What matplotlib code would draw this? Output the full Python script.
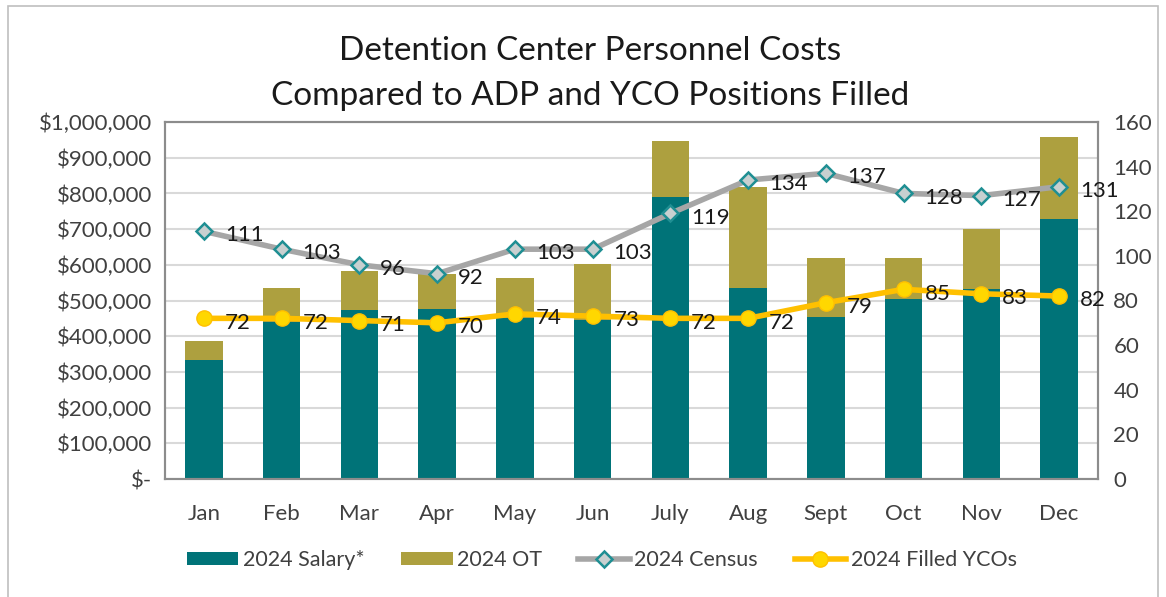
import matplotlib
matplotlib.use("Agg")
import matplotlib.pyplot as plt
from matplotlib.ticker import FuncFormatter, MultipleLocator
import numpy as np

months = ["Jan", "Feb", "Mar", "Apr", "May", "Jun", "July", "Aug", "Sept", "Oct", "Nov", "Dec"]
salary = [333000, 440000, 473000, 476000, 451000, 445000, 790000, 535000, 454000, 504000, 532000, 728000]
ot = [54000, 95000, 110000, 98000, 112000, 157000, 157000, 283000, 165000, 115000, 168000, 230000]
census = [111, 103, 96, 92, 103, 103, 119, 134, 137, 128, 127, 131]
filled_ycos = [72, 72, 71, 70, 74, 73, 72, 72, 79, 85, 83, 82]

TEAL = "#007378"
OLIVE = "#ADA03F"
GRAY = "#A6A6A6"
GOLD = "#FFC000"
TXT = "#404040"

plt.rcParams["font.family"] = ["Lato", "DejaVu Sans"]

fig = plt.figure(figsize=(11.66, 5.97), dpi=100)
ax = fig.add_axes([165 / 1166, 1 - 479 / 597, 933 / 1166, 357 / 597])
ax2 = ax.twinx()

x = np.arange(len(months))
w = 0.48
ax.bar(x, salary, w, color=TEAL, label="2024 Salary*", zorder=2)
ax.bar(x, ot, w, bottom=salary, color=OLIVE, label="2024 OT", zorder=2)

ax.set_xlim(-0.5, len(months) - 0.5)
ax.set_ylim(0, 1000000)
ax.yaxis.set_major_locator(MultipleLocator(100000))
ax.yaxis.set_major_formatter(FuncFormatter(lambda v, p: "$-" if v == 0 else f"${v:,.0f}"))
ax.grid(axis="y", color="#D9D9D9", linewidth=1.5, zorder=0)
ax.set_axisbelow(True)
ax.set_xticks(x)
ax.set_xticklabels(months)
ax.tick_params(axis="both", length=0, labelsize=16, labelcolor=TXT, pad=9)
ax.tick_params(axis="x", pad=18)

ax2.plot(x, census, color=GRAY, linewidth=4, marker="D", markersize=8,
         markerfacecolor="#C8D0D0", markeredgecolor="#1F8F93", markeredgewidth=1.8,
         label="2024 Census", zorder=3)
ax2.plot(x, filled_ycos, color=GOLD, linewidth=4, marker="o", markersize=11,
         markerfacecolor="#FFD700", markeredgecolor=GOLD, label="2024 Filled YCOs", zorder=3)
ax2.set_ylim(0, 160)
ax2.yaxis.set_major_locator(MultipleLocator(20))
ax2.tick_params(axis="y", length=0, labelsize=16, labelcolor=TXT, pad=11)

for xi, v in zip(x, census):
    ax2.annotate(str(v), (xi, v), xytext=(15, -3), textcoords="offset points",
                 ha="left", va="center", fontsize=16, color="#1a1a1a", zorder=4)
for xi, v in zip(x, filled_ycos):
    ax2.annotate(str(v), (xi, v), xytext=(15, -3), textcoords="offset points",
                 ha="left", va="center", fontsize=16, color="#1a1a1a", zorder=4)

for a in (ax, ax2):
    for s in a.spines.values():
        s.set_color("#8C8C8C")
        s.set_linewidth(1.5)

fig.text(0.506, 1 - 51 / 597, "Detention Center Personnel Costs", ha="center", va="center",
         fontsize=24, color="#1a1a1a")
fig.text(0.506, 1 - 96 / 597, "Compared to ADP and YCO Positions Filled", ha="center", va="center",
         fontsize=24, color="#1a1a1a")

h1, l1 = ax.get_legend_handles_labels()
h2, l2 = ax2.get_legend_handles_labels()
fig.legend(h1 + h2, l1 + l2, loc="center", bbox_to_anchor=(0.516, 1 - 560 / 597), ncol=4,
           frameon=False, fontsize=15.5, labelcolor=TXT, handlelength=2.4, handletextpad=0.2,
           columnspacing=1.7, handleheight=0.6)

fig.patches.append(plt.Rectangle((8 / 1166, -0.01), 1150 / 1166, 1.0, transform=fig.transFigure,
                                 fill=False, edgecolor="#BFBFBF", linewidth=1.2))

fig.savefig("out.png", dpi=100)
